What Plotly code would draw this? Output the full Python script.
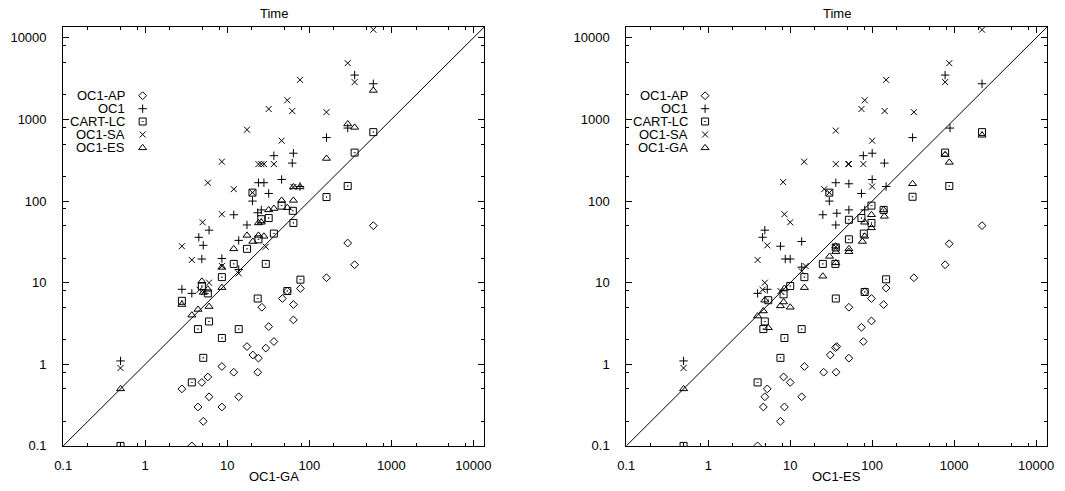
import plotly.graph_objects as go

# ---------------- data: left panel (x = OC1-GA time) ----------------
L_ap_x = [2.8, 3.7, 4.4, 4.9, 5.1, 5.8, 6.0, 8.6, 8.6, 12, 13.8, 17.4, 20.5, 24, 23.5, 26.4, 29.5, 32, 37, 47, 54, 64, 64, 78, 162, 294, 357, 603]
L_ap_y = [0.5, 0.1, 0.3, 0.6, 0.2, 0.7, 0.4, 0.94, 0.3, 0.8, 0.4, 1.65, 1.3, 1.19, 0.8, 5.0, 1.58, 2.9, 1.9, 6.4, 7.9, 5.4, 3.5, 8.5, 11.5, 30.6, 16.6, 50]

L_oc1_x = [0.5, 2.8, 3.7, 4.5, 5.1, 4.9, 6.0, 8.6, 12, 13.8, 13.8, 17.4, 20.3, 23.5, 26, 24, 28, 32, 37, 46, 62, 64, 77, 162, 294, 357, 603]
L_oc1_y = [1.1, 8.3, 7.4, 36, 28.7, 19.5, 44, 19.8, 68, 33, 14.5, 51, 100, 72, 78, 168, 168, 124, 360, 184, 292, 386, 151, 600, 785, 3500, 2740]

L_cart_x = [0.5, 2.8, 3.7, 4.4, 4.9, 5.1, 5.8, 6.0, 8.6, 8.6, 12, 13.8, 17.4, 20.3, 23.5, 24, 26, 29.5, 32, 37, 46, 54, 63, 64, 78, 162, 294, 357, 603]
L_cart_y = [0.1, 6.0, 0.6, 2.7, 9.1, 1.2, 7.4, 3.35, 11.7, 2.1, 17, 2.7, 26, 127, 6.4, 34, 60, 17, 62, 40, 88, 7.9, 76, 54, 10.9, 112, 153, 393, 700]

L_sa_x = [0.5, 2.8, 3.7, 4.6, 5.2, 5.0, 5.8, 6.0, 8.6, 8.6, 8.6, 12, 13.8, 17.4, 20.3, 24, 26, 28, 29.5, 32, 37, 46, 54, 62, 64, 77, 162, 294, 357, 603]
L_sa_y = [0.9, 28, 19, 8.2, 7.7, 55, 168, 10, 304, 69, 16, 140, 13, 750, 127, 284, 284, 284, 27.6, 1343, 284, 550, 1720, 1270, 149, 3060, 1230, 4900, 2870, 12600]

L_es_x = [0.5, 2.8, 3.7, 4.4, 4.9, 5.1, 5.8, 6.0, 8.6, 8.6, 12, 17.4, 20.5, 24, 24, 26, 28, 32, 37, 46, 54, 64, 64, 77, 162, 294, 357, 603]
L_es_y = [0.5, 5.4, 4.0, 4.7, 10.4, 7.6, 8.3, 5.1, 8.7, 15.4, 26, 38, 32, 38, 54, 55, 37, 78, 81, 102, 83, 102, 149, 149, 333, 880, 800, 2270]

# ---------------- data: right panel (x = OC1-ES time) ----------------
R_ap_x = [4.0, 4.7, 4.9, 5.25, 7.6, 8.3, 8.5, 10, 13.8, 14.9, 25.6, 30.8, 35.6, 36.3, 37, 52, 52, 74, 78, 81, 98, 98, 138, 148, 323, 776, 871, 2190]
R_ap_y = [0.1, 0.3, 0.4, 0.5, 0.2, 0.7, 0.3, 0.6, 0.4, 0.94, 0.8, 1.3, 1.6, 0.8, 1.65, 1.19, 5.0, 2.84, 1.9, 7.7, 3.4, 6.4, 5.4, 8.6, 11.5, 16.6, 30, 50]

R_oc1_x = [0.5, 4.0, 4.6, 4.9, 5.25, 7.6, 8.7, 10, 13.8, 13.8, 25, 30, 36, 36, 37, 52, 52, 74, 78, 81, 100, 100, 141, 148, 311, 776, 890, 2190]
R_oc1_y = [1.1, 7.4, 36, 44, 8.3, 28, 19.5, 19.5, 32, 15.5, 68, 100, 168, 51, 71, 163, 78, 124, 360, 78, 386, 184, 292, 151, 600, 3500, 785, 2740]

R_cart_x = [0.5, 4.0, 4.7, 4.9, 5.4, 7.6, 8.3, 8.5, 10, 13.8, 14.9, 25, 30, 35.6, 36, 36, 52, 52, 74, 79, 81, 98, 98, 138, 148, 311, 776, 873, 2190]
R_cart_y = [0.1, 0.6, 2.7, 3.35, 6.1, 1.2, 7.2, 2.1, 9.1, 2.7, 11.7, 17, 127, 17, 27, 6.4, 34, 59, 62, 40, 7.7, 54, 88, 78, 11, 113, 393, 153, 700]

R_sa_x = [0.5, 4.0, 4.6, 4.9, 5.25, 7.6, 8.2, 8.5, 10, 13.8, 15.4, 14.8, 26, 30, 36, 36, 36, 51, 52, 74, 78, 81, 100, 100, 142, 148, 323, 776, 873, 2190]
R_sa_y = [0.9, 19, 8.2, 10, 28.7, 7.9, 171, 69, 55, 13.8, 16, 304, 140, 127, 730, 284, 27.6, 284, 284, 1343, 284, 1720, 550, 151, 1270, 3060, 1230, 2870, 4900, 12600]

R_ga_x = [0.5, 4.0, 4.7, 4.9, 5.4, 7.6, 8.3, 8.5, 10, 14.9, 25, 30.2, 36, 36, 36, 52, 52, 76, 81, 81, 98, 98, 138, 141, 311, 776, 873, 2190]
R_ga_y = [0.5, 3.9, 4.5, 6.1, 2.8, 5.2, 5.8, 8.5, 5.0, 8.7, 12, 21, 28, 24, 17.5, 26, 24, 32, 37, 55, 68, 47, 78, 65, 163, 370, 298, 640]

tick_vals = [0.1, 1, 10, 100, 1000, 10000]
tick_text = ["0.1", "1", "10", "100", "1000", "10000"]
minor_vals = [m * d for d in [0.1, 1, 10, 100, 1000, 10000] for m in (2, 5, 8)]

LOG_MIN, LOG_MAX = -1.0, 4.135
W, H = 1065, 491

FONT = "Liberation Sans, Arial, Helvetica, sans-serif"

fig = go.Figure()

sym = {
    "ap": dict(symbol="diamond-open", size=6),
    "oc1": dict(symbol="cross-thin-open", size=6),
    "cart": dict(symbol="square-open-dot", size=7),
    "sa": dict(symbol="x-thin-open", size=6),
    "tri": dict(symbol="triangle-up-open", size=7),
}


def add_series(x, y, key, xa, ya, name):
    m = dict(color="black", line=dict(color="black", width=1), **sym[key])
    fig.add_trace(go.Scatter(x=x, y=y, mode="markers", marker=m, name=name,
                             xaxis=xa, yaxis=ya, showlegend=False, cliponaxis=True))


# diagonal reference line y = x over the full axis range
diag = [10 ** LOG_MIN, 10 ** LOG_MAX]
for xa, ya in (("x", "y"), ("x2", "y2")):
    fig.add_trace(go.Scatter(x=diag, y=diag, mode="lines", line=dict(color="black", width=1),
                             xaxis=xa, yaxis=ya, showlegend=False, hoverinfo="skip"))

add_series(L_ap_x, L_ap_y, "ap", "x", "y", "OC1-AP")
add_series(L_oc1_x, L_oc1_y, "oc1", "x", "y", "OC1")
add_series(L_cart_x, L_cart_y, "cart", "x", "y", "CART-LC")
add_series(L_sa_x, L_sa_y, "sa", "x", "y", "OC1-SA")
add_series(L_es_x, L_es_y, "tri", "x", "y", "OC1-ES")

add_series(R_ap_x, R_ap_y, "ap", "x2", "y2", "OC1-AP")
add_series(R_oc1_x, R_oc1_y, "oc1", "x2", "y2", "OC1")
add_series(R_cart_x, R_cart_y, "cart", "x2", "y2", "CART-LC")
add_series(R_sa_x, R_sa_y, "sa", "x2", "y2", "OC1-SA")
add_series(R_ga_x, R_ga_y, "tri", "x2", "y2", "OC1-GA")

# ---- gnuplot-style key (text right-aligned, symbol to the right) ----
key_left = ["OC1-AP", "OC1", "CART-LC", "OC1-SA", "OC1-ES"]
key_right = ["OC1-AP", "OC1", "CART-LC", "OC1-SA", "OC1-GA"]
key_syms = ["ap", "oc1", "cart", "sa", "tri"]
key_rows_px = [97.3, 110.5, 123.5, 136.7, 150.3]

annotations = []
for labels, text_right_px, sym_px in ((key_left, 119.5, 135.7), (key_right, 691, 706.7)):
    for lab, k, ypx in zip(labels, key_syms, key_rows_px):
        annotations.append(dict(text=lab, x=text_right_px / W, y=1 - ypx / H, xref="paper", yref="paper",
                                xanchor="right", yanchor="middle", showarrow=False,
                                font=dict(family=FONT, size=13, color="black")))
        m = dict(color="black", line=dict(color="black", width=1), **sym[k])
        fig.add_trace(go.Scatter(x=[sym_px], y=[ypx], mode="markers", marker=m,
                                 xaxis="x3", yaxis="y3", showlegend=False, hoverinfo="skip"))

# domains (pixel -> paper)
L_x0, L_x1 = 55.0, 482.7
R_x0, R_x1 = 626.7, 1054.0
Y_top, Y_bot = 27.3, 453.3
ydom = [1 - Y_bot / H, 1 - Y_top / H]

for title, cx, xtitle in (("Time", (L_x0 + L_x1) / 2, "OC1-GA"), ("Time", (R_x0 + R_x1) / 2, "OC1-ES")):
    annotations.append(dict(text=title, x=cx / W, y=1 - 14 / H, xref="paper", yref="paper",
                            xanchor="center", yanchor="middle", showarrow=False,
                            font=dict(family=FONT, size=13, color="black")))
    annotations.append(dict(text=xtitle, x=cx / W, y=1 - 484 / H, xref="paper", yref="paper",
                            xanchor="center", yanchor="middle", showarrow=False,
                            font=dict(family=FONT, size=13, color="black")))

axis_common = dict(
    type="log", range=[LOG_MIN, LOG_MAX], tickmode="array", tickvals=tick_vals, ticktext=tick_text,
    ticks="inside", ticklen=6, tickwidth=1, tickcolor="black", showline=True, linecolor="black",
    linewidth=1, mirror="ticks", showgrid=False, zeroline=False,
    tickfont=dict(family=FONT, size=13, color="black"),
    minor=dict(tickmode="array", tickvals=minor_vals, ticks="inside", ticklen=3, tickwidth=1,
               tickcolor="black", showgrid=False),
)

fig.update_layout(
    width=W, height=H, margin=dict(l=0, r=0, t=0, b=0),
    paper_bgcolor="white", plot_bgcolor="rgba(0,0,0,0)",
    font=dict(family=FONT, size=13, color="black"),
    xaxis=dict(domain=[L_x0 / W, L_x1 / W], anchor="y", ticklabelstandoff=7, **axis_common),
    yaxis=dict(domain=ydom, anchor="x", ticklabelstandoff=13, **axis_common),
    xaxis2=dict(domain=[R_x0 / W, R_x1 / W], anchor="y2", ticklabelstandoff=7, **axis_common),
    yaxis2=dict(domain=ydom, anchor="x2", ticklabelstandoff=13, **axis_common),
    xaxis3=dict(domain=[0, 1], range=[0, W], visible=False, anchor="y3", fixedrange=True),
    yaxis3=dict(domain=[0, 1], range=[H, 0], visible=False, anchor="x3", fixedrange=True),
    annotations=annotations,
    showlegend=False,
)

fig.write_html("out.html")
